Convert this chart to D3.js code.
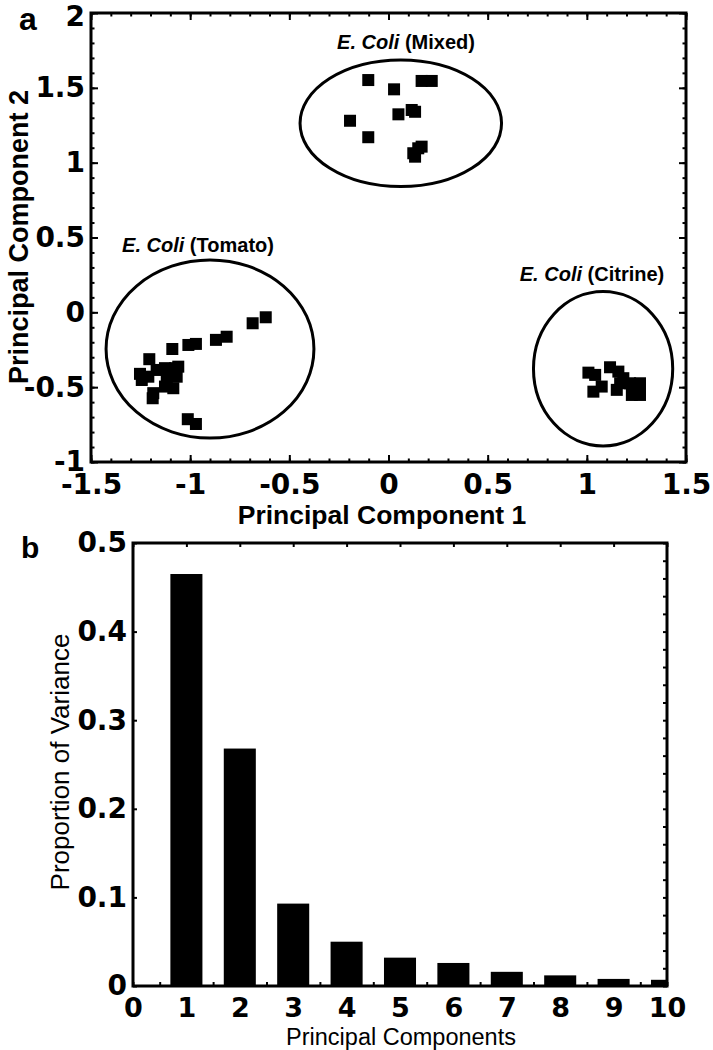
<!DOCTYPE html>
<html><head><meta charset="utf-8">
<script src="https://cdn.jsdelivr.net/npm/d3@7"></script>
<style>
body{margin:0;background:#fff}
svg{display:block}
text{font-family:"Liberation Sans",Arial,Helvetica,sans-serif;fill:#000}
.tk{font-family:"DejaVu Sans",sans-serif}
</style>
</head><body>
<svg id="c" width="713" height="1050"></svg>
<script>
// ---------- Panel a data (PC1, PC2 scores) ----------
const tomatoPC1 = [-0.619,-0.685,-0.816,-0.870,-0.971,-1.009,-1.090,-1.206,-1.253,-1.244,-1.211,-1.169,-1.127,-1.076,-1.060,-1.118,-1.068,-1.127,-1.085,-1.186,-1.189,-1.012,-0.971];
const tomatoPC2 = [-0.033,-0.073,-0.163,-0.184,-0.211,-0.218,-0.245,-0.313,-0.411,-0.452,-0.430,-0.385,-0.373,-0.373,-0.363,-0.440,-0.430,-0.496,-0.507,-0.540,-0.574,-0.714,-0.746];
const mixedPC1 = [-0.102,0.028,0.167,0.218,-0.194,0.050,0.117,0.134,-0.102,0.125,0.150,0.167,0.134];
const mixedPC2 = [1.552,1.490,1.546,1.546,1.280,1.323,1.352,1.340,1.170,1.063,1.096,1.107,1.040];
const citrinePC1 = [1.008,1.042,1.033,1.075,1.117,1.159,1.168,1.151,1.184,1.218,1.268,1.227,1.268];
const citrinePC2 = [-0.403,-0.418,-0.530,-0.496,-0.367,-0.396,-0.474,-0.518,-0.440,-0.474,-0.474,-0.552,-0.552];

// cluster ellipses (data units) and labels
const clusterNames = ["Tomato","Mixed","Citrine"];
const ellipseCX = [-0.90, 0.062, 1.082];
const ellipseCY = [-0.245, 1.263, -0.377];
const ellipseRX = [0.524, 0.508, 0.351];
const ellipseRY = [0.595, 0.423, 0.516];

const xTicksA = [-1.5,-1,-0.5,0,0.5,1,1.5];
const yTicksA = [-1,-0.5,0,0.5,1,1.5,2];

// ---------- Panel b data ----------
const components = [1,2,3,4,5,6,7,8,9,10];
const variance = [0.465,0.268,0.093,0.050,0.032,0.026,0.016,0.012,0.008,0.007];
const xTicksB = [0,1,2,3,4,5,6,7,8,9,10];
const yTicksB = [0,0.1,0.2,0.3,0.4,0.5];

const svg = d3.select("#c");
const fmt = d => String(d);

function styleAxis(g, fs){
  g.select(".domain").remove();
  g.selectAll(".tick line").attr("stroke","#000").attr("stroke-width",2);
  g.selectAll(".tick text").attr("class","tk").attr("font-size",fs).attr("font-weight","bold").attr("fill","#000").attr("font-family",null);
}

// ================= Panel a =================
const xa = d3.scaleLinear().domain([-1.5,1.5]).range([91,686]);
const ya = d3.scaleLinear().domain([-1,2]).range([462,13]);
const ga = svg.append("g");

const minorA_x = d3.range(-1.5,1.5001,0.1).map(v=>+v.toFixed(2));
const minorA_y = d3.range(-1,2.0001,0.1).map(v=>+v.toFixed(2));

// minor ticks
ga.append("g").attr("transform","translate(0,462)").call(d3.axisBottom(xa).tickValues(minorA_x).tickSize(-3.5).tickFormat("")).call(styleAxis,0);
ga.append("g").attr("transform","translate(0,13)").call(d3.axisTop(xa).tickValues(minorA_x).tickSize(-3.5).tickFormat("")).call(styleAxis,0);
ga.append("g").attr("transform","translate(91,0)").call(d3.axisLeft(ya).tickValues(minorA_y).tickSize(-3.5).tickFormat("")).call(styleAxis,0);
ga.append("g").attr("transform","translate(686,0)").call(d3.axisRight(ya).tickValues(minorA_y).tickSize(-3.5).tickFormat("")).call(styleAxis,0);
// major ticks + labels
ga.append("g").attr("transform","translate(0,462)").call(d3.axisBottom(xa).tickValues(xTicksA).tickSize(-7).tickPadding(12).tickFormat(fmt)).call(styleAxis,28);
const yAxA = ga.append("g").attr("transform","translate(91,0)").call(d3.axisLeft(ya).tickValues(yTicksA).tickSize(-7).tickPadding(6).tickFormat(fmt)).call(styleAxis,28);
yAxA.selectAll(".tick text").filter(d=>d===2).attr("dy","0.45em");
ga.append("g").attr("transform","translate(0,13)").call(d3.axisTop(xa).tickValues(xTicksA).tickSize(-7).tickFormat("")).call(styleAxis,0);
ga.append("g").attr("transform","translate(686,0)").call(d3.axisRight(ya).tickValues(yTicksA).tickSize(-7).tickFormat("")).call(styleAxis,0);

// ellipses
const ellData = clusterNames.map((n,i)=>({n,cx:ellipseCX[i],cy:ellipseCY[i],rx:ellipseRX[i],ry:ellipseRY[i]}));
ga.selectAll("ellipse.cl").data(ellData).join("ellipse")
  .attr("cx",d=>xa(d.cx)).attr("cy",d=>ya(d.cy))
  .attr("rx",d=>xa(d.cx+d.rx)-xa(d.cx)).attr("ry",d=>ya(d.cy-d.ry)-ya(d.cy))
  .attr("fill","none").attr("stroke","#000").attr("stroke-width",3);

// points
const pts = [];
tomatoPC1.forEach((v,i)=>pts.push([v,tomatoPC2[i]]));
mixedPC1.forEach((v,i)=>pts.push([v,mixedPC2[i]]));
citrinePC1.forEach((v,i)=>pts.push([v,citrinePC2[i]]));
const sq = 12;
ga.selectAll("rect.pt").data(pts).join("rect").attr("class","pt")
  .attr("x",d=>xa(d[0])-sq/2).attr("y",d=>ya(d[1])-sq/2)
  .attr("width",sq).attr("height",sq).attr("fill","#000");

// frame
ga.append("rect").attr("x",91).attr("y",13).attr("width",686-91).attr("height",462-13)
  .attr("fill","none").attr("stroke","#000").attr("stroke-width",3);

// cluster labels
const labelPos = [[198,252],[406,49],[592,281]];
clusterNames.forEach((n,i)=>{
  const t = ga.append("text").attr("x",labelPos[i][0]).attr("y",labelPos[i][1])
    .attr("text-anchor","middle").attr("font-size",20).attr("font-weight","bold");
  t.append("tspan").attr("font-style","italic").text("E. Coli");
  t.append("tspan").text(" ("+n+")");
});

// axis titles
ga.append("text").attr("x",382).attr("y",524).attr("text-anchor","middle")
  .attr("font-size",26.5).attr("font-weight","bold").text("Principal Component 1");
ga.append("text").attr("transform","translate(28,237) rotate(-90)").attr("text-anchor","middle")
  .attr("font-size",27).attr("font-weight","bold").text("Principal Component 2");
svg.append("text").attr("x",19).attr("y",30).attr("font-size",32).attr("font-weight","bold").text("a");

// ================= Panel b =================
const xb = d3.scaleLinear().domain([0,10]).range([133,667]);
const yb = d3.scaleLinear().domain([0,0.5]).range([986,543]);
const gb = svg.append("g");

svg.append("clipPath").attr("id","clipb").append("rect")
  .attr("x",133).attr("y",543).attr("width",667-133).attr("height",986-543);

const halfSteps = d3.range(0,10.001,0.5);
const rightSteps = d3.range(0,0.5001,0.02).map(v=>+v.toFixed(3));
gb.append("g").attr("transform","translate(0,986)").call(d3.axisBottom(xb).tickValues(halfSteps).tickSize(-4).tickFormat("")).call(styleAxis,0);
gb.append("g").attr("transform","translate(0,543)").call(d3.axisTop(xb).tickValues(xTicksB).tickSize(-4).tickFormat("")).call(styleAxis,0);
gb.append("g").attr("transform","translate(667,0)").call(d3.axisRight(yb).tickValues(rightSteps).tickSize(-4).tickFormat("")).call(styleAxis,0);
gb.append("g").attr("transform","translate(133,0)").call(d3.axisLeft(yb).tickValues(yTicksB).tickSize(-4).tickPadding(6).tickFormat(fmt)).call(styleAxis,28);
gb.append("g").attr("transform","translate(0,986)").call(d3.axisBottom(xb).tickValues(xTicksB).tickSize(0).tickPadding(12).tickFormat(fmt)).call(styleAxis,27);

const barW = 0.6;
gb.append("g").attr("clip-path","url(#clipb)").selectAll("rect").data(components).join("rect")
  .attr("x",(d)=>xb(d-barW/2)).attr("width",xb(barW)-xb(0))
  .attr("y",(d,i)=>yb(variance[i])).attr("height",(d,i)=>yb(0)-yb(variance[i]))
  .attr("fill","#000");

gb.append("rect").attr("x",133).attr("y",543).attr("width",667-133).attr("height",986-543)
  .attr("fill","none").attr("stroke","#000").attr("stroke-width",3);

gb.append("text").attr("x",401).attr("y",1045).attr("text-anchor","middle")
  .attr("font-size",23.5).text("Principal Components");
gb.append("text").attr("transform","translate(69,762) rotate(-90)").attr("text-anchor","middle")
  .attr("font-size",26).text("Proportion of Variance");
svg.append("text").attr("x",21).attr("y",558).attr("font-size",30).attr("font-weight","bold").text("b");
</script>
</body></html>
